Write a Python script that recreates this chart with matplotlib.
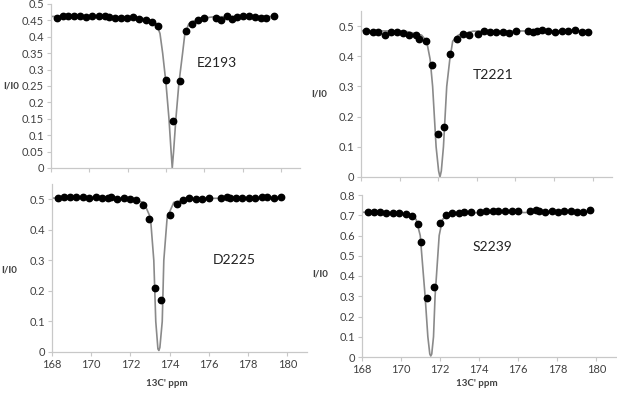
import matplotlib
matplotlib.use('Agg')
import matplotlib.pyplot as plt

plt.rcParams['font.family'] = ['Lato', 'DejaVu Sans']

# E2193 (top left)
e_x = [168.3, 168.64, 168.9, 169.2, 169.5, 169.83, 170.16, 170.49, 170.83, 171.04,
       171.34, 171.63, 171.95, 172.3, 172.6, 172.94, 173.25, 173.6, 174.03, 174.38,
       174.73, 175.03, 175.34, 175.65, 175.98, 176.64, 176.9, 177.17, 177.43, 177.72,
       178.03, 178.35, 178.64, 178.96, 179.25, 179.63]
e_y = [0.457, 0.464, 0.464, 0.464, 0.464, 0.46, 0.462, 0.462, 0.464, 0.46,
       0.457, 0.457, 0.457, 0.459, 0.455, 0.452, 0.445, 0.432, 0.267, 0.142,
       0.264, 0.417, 0.44, 0.45, 0.457, 0.457, 0.452, 0.462, 0.455, 0.46,
       0.462, 0.462, 0.46, 0.457, 0.457, 0.462]
e_fit_x = [168.0, 172.0, 173.0, 173.5, 173.69, 173.83, 174.0, 174.16, 174.27, 174.33,
           174.4, 174.52, 174.68, 174.87, 174.99, 175.2, 175.7, 176.5, 179.65]
e_fit_y = [0.462, 0.461, 0.455, 0.44, 0.41, 0.35, 0.26, 0.15, 0.05, 0.0,
           0.05, 0.15, 0.26, 0.35, 0.41, 0.44, 0.455, 0.461, 0.462]

# T2221 (top right)
t_x = [168.26, 168.64, 168.9, 169.24, 169.55, 169.88, 170.19, 170.5, 170.85, 171.02,
       171.35, 171.66, 171.97, 172.32, 172.61, 172.96, 173.27, 173.6, 174.08, 174.37,
       174.68, 174.99, 175.34, 175.67, 176.01, 176.67, 176.93, 177.1, 177.36, 177.71,
       178.05, 178.4, 178.74, 179.09, 179.43, 179.74]
t_y = [0.485, 0.479, 0.479, 0.47, 0.479, 0.479, 0.476, 0.47, 0.47, 0.457,
       0.451, 0.37, 0.142, 0.166, 0.406, 0.456, 0.473, 0.47, 0.473, 0.485,
       0.481, 0.481, 0.481, 0.478, 0.485, 0.485, 0.481, 0.485, 0.487, 0.485,
       0.479, 0.485, 0.485, 0.487, 0.479, 0.479]
t_fit_x = [168.0, 170.3, 171.14, 171.4, 171.58, 171.71, 171.89, 172.02, 172.09, 172.16,
           172.27, 172.44, 172.6, 172.75, 173.04, 173.8, 179.74]
t_fit_y = [0.485, 0.483, 0.47, 0.45, 0.39, 0.3, 0.1, 0.02, 0.0, 0.02,
           0.1, 0.3, 0.39, 0.45, 0.47, 0.483, 0.485]

# D2225 (bottom left)
d_x = [168.29, 168.63, 168.9, 169.24, 169.57, 169.9, 170.25, 170.55, 170.86, 171.03,
       171.32, 171.66, 171.97, 172.29, 172.63, 172.94, 173.24, 173.58, 174.04, 174.35,
       174.69, 174.98, 175.32, 175.66, 176.0, 176.6, 176.9, 177.07, 177.36, 177.7,
       178.04, 178.35, 178.69, 178.98, 179.32, 179.66]
d_y = [0.503, 0.507, 0.507, 0.507, 0.507, 0.503, 0.509, 0.503, 0.503, 0.507,
       0.5, 0.503, 0.5, 0.496, 0.481, 0.436, 0.211, 0.171, 0.45, 0.484,
       0.496, 0.503, 0.5, 0.501, 0.503, 0.503, 0.507, 0.503, 0.503, 0.503,
       0.503, 0.503, 0.507, 0.509, 0.503, 0.509]
d_fit_x = [168.0, 171.5, 172.3, 172.68, 173.02, 173.19, 173.29, 173.4, 173.45, 173.5,
           173.62, 173.7, 173.87, 174.21, 174.8, 175.8, 179.66]
d_fit_y = [0.504, 0.502, 0.495, 0.49, 0.44, 0.3, 0.1, 0.01, 0.005, 0.015,
           0.1, 0.3, 0.44, 0.49, 0.497, 0.503, 0.504]

# S2239 (bottom right)
s_x = [168.29, 168.6, 168.9, 169.24, 169.57, 169.9, 170.25, 170.55, 170.86, 171.03,
       171.32, 171.66, 171.97, 172.29, 172.63, 172.94, 173.24, 173.58, 174.04, 174.35,
       174.69, 174.98, 175.32, 175.66, 176.0, 176.6, 176.9, 177.07, 177.36, 177.7,
       178.04, 178.35, 178.69, 178.98, 179.32, 179.66]
s_y = [0.718, 0.714, 0.714, 0.713, 0.71, 0.71, 0.705, 0.696, 0.657, 0.569,
       0.289, 0.347, 0.66, 0.701, 0.71, 0.71, 0.714, 0.714, 0.714, 0.721,
       0.721, 0.721, 0.721, 0.721, 0.723, 0.721, 0.726, 0.721, 0.714, 0.723,
       0.714, 0.721, 0.721, 0.714, 0.714, 0.726]
s_fit_x = [168.0, 169.8, 170.5, 170.77, 170.98, 171.23, 171.37, 171.47, 171.52, 171.57,
           171.66, 171.74, 171.95, 172.12, 172.45, 173.3, 179.66]
s_fit_y = [0.715, 0.712, 0.7, 0.68, 0.6, 0.3, 0.1, 0.015, 0.005, 0.015,
           0.1, 0.3, 0.6, 0.68, 0.7, 0.712, 0.715]

xtick_vals = list(range(168, 181, 2))

panels = [
    # rect (px), x, y, fit x, fit y, name, name pos, ylim top, yticks, x labels, ylabel pos (px)
    ([51, 4, 249, 164], e_x, e_y, e_fit_x, e_fit_y, 'E2193', (175.6, 0.32),
     0.5, [i * 0.05 for i in range(11)], False, (11, 86)),
    ([361, 11, 251, 166], t_x, t_y, t_fit_x, t_fit_y, 'T2221', (173.8, 0.338),
     0.55, [i * 0.1 for i in range(6)], False, (319, 94)),
    ([52, 184, 255, 168], d_x, d_y, d_fit_x, d_fit_y, 'D2225', (176.2, 0.30),
     0.55, [i * 0.1 for i in range(6)], True, (9, 270)),
    ([362, 195, 254, 162], s_x, s_y, s_fit_x, s_fit_y, 'S2239', (173.67, 0.543),
     0.8, [i * 0.1 for i in range(9)], True, (320, 274)),
]

W, H = 617, 394
fig = plt.figure(figsize=(W / 100, H / 100), dpi=100)
grey = '#c8c8c8'
text_col = '#404040'


def fmt(v):
    return ('%.2f' % v).rstrip('0').rstrip('.')


for rect, xs, ys, fx, fy, name, lpos, ytop, yticks, xlab, ylpos in panels:
    l, t, w, h = rect
    ax = fig.add_axes([l / W, (H - t - h) / H, w / W, h / H])
    ax.plot(fx, fy, color='#8a8a8a', lw=1.2, zorder=2)
    ax.plot(xs, ys, 'o', color='black', ms=4.6, zorder=3)
    ax.set_xlim(168, 181)
    ax.set_ylim(0, ytop)
    ax.set_xticks(xtick_vals)
    ax.set_yticks(yticks)
    ax.set_yticklabels([fmt(v) for v in yticks])
    if xlab:
        ax.set_xticklabels([str(v) for v in xtick_vals])
        fig.text((l + 115) / W, 1 - 384 / H, "13C' ppm", fontsize=7, fontweight='bold',
                 color=text_col, ha='center', va='center')
    else:
        ax.set_xticklabels([])
    fig.text(ylpos[0] / W, 1 - ylpos[1] / H, 'I/I0', fontsize=7, fontweight='bold',
             color=text_col, ha='center', va='center')
    for side in ['top', 'right']:
        ax.spines[side].set_visible(False)
    for side in ['left', 'bottom']:
        ax.spines[side].set_color(grey)
        ax.spines[side].set_linewidth(0.9)
    ax.tick_params(length=3, width=0.8, color=grey, labelsize=8, labelcolor=text_col, pad=2)
    ax.patch.set_alpha(0)
    ax.text(lpos[0], lpos[1], name, fontsize=10, color='#222222', va='center')

fig.savefig('out.png', dpi=100)
